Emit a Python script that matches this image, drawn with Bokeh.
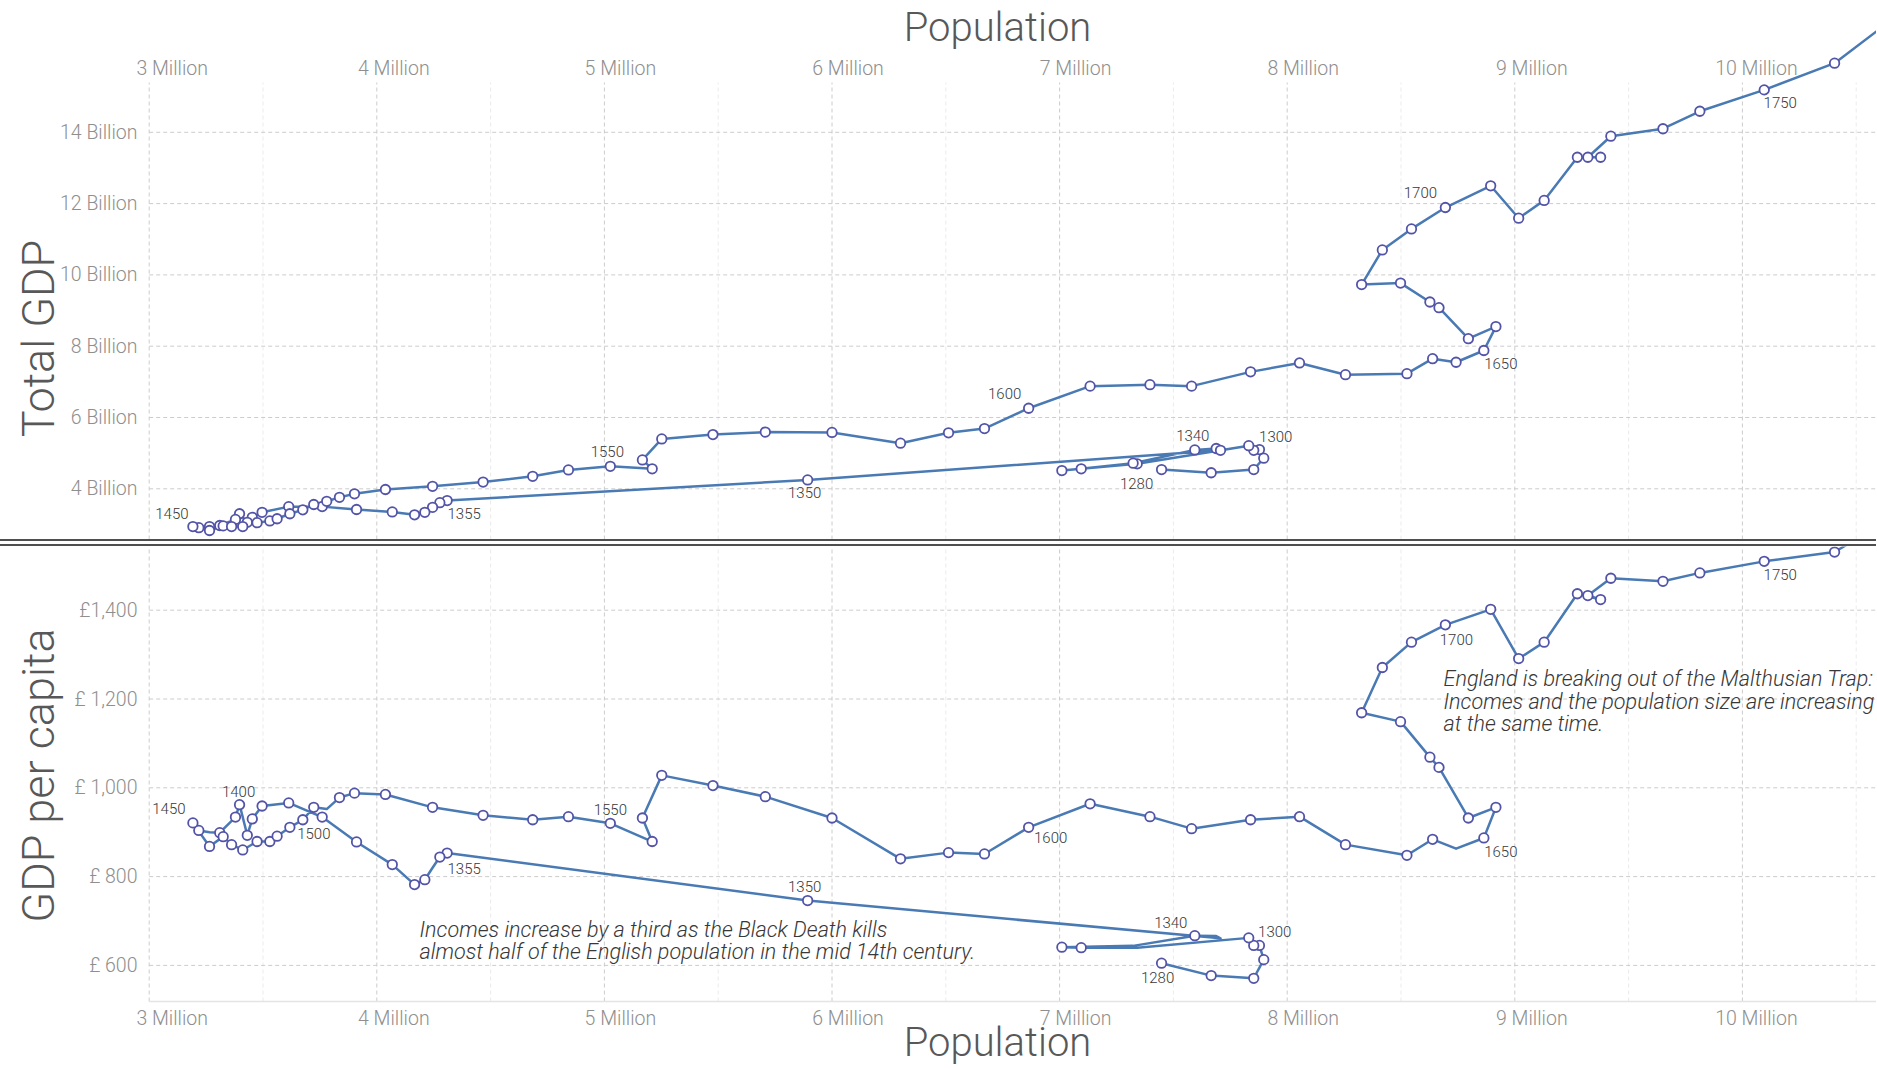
import math
from bokeh.plotting import figure
from bokeh.models import ColumnDataSource, Range1d, Div, CDSView, BooleanFilter
from bokeh.layouts import column
from bokeh.embed import file_html
from bokeh.resources import INLINE
from bokeh.core.properties import value

# ---------------- data ----------------
# population in millions, in time order
population = [7.448, 7.666, 7.853, 7.897, 7.878, 7.853, 7.831,
              7.341, 7.095, 7.010, 7.323, 7.594, 7.688, 7.707,
              5.893,
              4.309, 4.277, 4.245, 4.211, 4.166, 4.068, 3.911,
              3.760, 3.613, 3.496, 3.453, 3.431, 3.397, 3.379,
              3.310, 3.265, 3.218, 3.192,
              3.265, 3.325, 3.362, 3.411, 3.474, 3.530, 3.562,
              3.618, 3.675, 3.723, 3.780, 3.836, 3.902, 4.038,
              4.245, 4.467, 4.685, 4.842, 5.026,
              5.210, 5.167, 5.252, 5.477, 5.707, 6.000,
              6.301, 6.512, 6.670, 6.864, 7.134,
              7.397, 7.580, 7.839, 8.054,
              8.256, 8.526, 8.639, 8.742, 8.864,
              8.917, 8.796, 8.667, 8.627, 8.498, 8.327, 8.418,
              8.546, 8.695, 8.894, 9.017, 9.129, 9.275, 9.377,
              9.321, 9.422, 9.651, 9.813, 10.096, 10.405, 10.80]

# total GDP in billions
total_gdp = [4.54, 4.45, 4.54, 4.86, 5.10, 5.08, 5.21,
             4.70, 4.56, 4.51, 4.72, 5.09, 5.13, 5.08,
             4.25,
             3.67, 3.61, 3.48, 3.34, 3.27, 3.35, 3.42,
             3.50, 3.50, 3.34, 3.20, 3.06, 3.30, 3.14,
             2.97, 2.94, 2.91, 2.94,
             2.83, 2.96, 2.94, 2.94, 3.05, 3.10, 3.16,
             3.30, 3.41, 3.56, 3.65, 3.76, 3.86, 3.98,
             4.07, 4.19, 4.35, 4.53, 4.63,
             4.56, 4.81, 5.40, 5.52, 5.59, 5.58,
             5.28, 5.57, 5.69, 6.26, 6.88,
             6.92, 6.88, 7.28, 7.53,
             7.20, 7.23, 7.65, 7.55, 7.88,
             8.55, 8.21, 9.08, 9.24, 9.77, 9.73, 10.70,
             11.29, 11.89, 12.50, 11.59, 12.09, 13.30, 13.30,
             13.30, 13.89, 14.10, 14.59, 15.19, 15.94, 17.85]

# GDP per capita in pounds
gdp_per_capita = [605, 577, 571, 613, 645, 645, 662,
                  640, 640, 641, 644, 667, 666, 661,
                  746,
                  853, 844, 820, 793, 782, 827, 878,
                  934, 966, 959, 930, 893, 962, 934,
                  899, 900, 904, 921,
                  868, 890, 872, 860, 879, 879, 891,
                  911, 928, 956, 952, 978, 988, 985,
                  956, 938, 928, 935, 920,
                  879, 932, 1028, 1005, 980, 932,
                  840, 854, 851, 911, 964,
                  935, 908, 928, 935,
                  872, 848, 884, 863, 887,
                  956, 932, 1046, 1069, 1149, 1169, 1271,
                  1328, 1367, 1402, 1291, 1328, 1437, 1424,
                  1433, 1472, 1465, 1484, 1510, 1531, 1652]

# points whose circle is not drawn in the lower panel
bottom_hidden = [7, 10, 12, 13, 17, 30, 43, 70]

# year labels: year text, index of the point
label_years = ["1280", "1300", "1340", "1350", "1355", "1400", "1450",
               "1500", "1550", "1600", "1650", "1700", "1750"]
label_index = [0, 6, 11, 14, 15, 27, 32, 40, 51, 61, 71, 80, 90]

pop_ticks = [3, 4, 5, 6, 7, 8, 9, 10]
pop_minor = [3.5, 4.5, 5.5, 6.5, 7.5, 8.5, 9.5, 10.5]
pop_tick_labels = ["3 Million", "4 Million", "5 Million", "6 Million",
                   "7 Million", "8 Million", "9 Million", "10 Million"]
gdp_ticks = [4, 6, 8, 10, 12, 14]
gdp_tick_labels = ["4 Billion", "6 Billion", "8 Billion", "10 Billion",
                   "12 Billion", "14 Billion"]
gdppc_ticks = [600, 800, 1000, 1200, 1400]
gdppc_tick_labels = ["£ 600", "£ 800", "£ 1,000", "£ 1,200", "£1,400"]

note_black_death = ["Incomes increase by a third as the Black Death kills",
                    "almost half of the English population in the mid 14th century."]
note_malthus = ["England is breaking out of the Malthusian Trap:",
                "Incomes and the population size are increasing",
                "at the same time."]

# ---------------- layout / style ----------------
FONT = "Roboto Light"
LINE_COLOR = "#4a7ab4"
MARK_COLOR = "#5354a8"
TICK_COLOR = "#8f8f8f"
TITLE_COLOR = "#585858"
TEXT_COLOR = "#383838"
GRID_COLOR = "#cccccc"
MINOR_GRID_COLOR = "#ebebeb"
TICK_FS = "19.5px"
YEAR_FS = "15px"
NOTE_FS = "21.6px"
AXIS_TITLE_FS = "45px"

PAGE_W = 1876
X3_PX = 148.7            # page px of the 3 Million line
PX_PER_M = 227.6
GRID_RIGHT = PAGE_W
# the population tick labels sit a little right of their grid lines (px)
pop_label_shift = [23, 17, 16, 16, 16, 16, 17, 14]


def pop_at(px):
    return 3.0 + (px - X3_PX) / PX_PER_M


TOP_Y0, TOP_Y1 = 0, 539
Y4B_PX, PX_PER_B = 488.3, 35.65


def gdp_at(py):
    return 4.0 + (Y4B_PX - py) / PX_PER_B


SEP_H = 7
BOT_Y0 = TOP_Y1 + SEP_H
BOT_FRAME_Y1, BOT_Y1 = 1001, 1068
Y1000_PX, PX_PER_GBP = 787.3, 0.444


def gdppc_at(py):
    return 1000.0 + (Y1000_PX - py) / PX_PER_GBP


# offsets (px) of the year labels from their points
top_offsets = {"1280": (-25, 14), "1300": (27, -9), "1340": (-2, -14),
               "1350": (-3, 13), "1355": (17, 13), "1450": (-21, -13),
               "1550": (-3, -15), "1600": (-24, -15), "1650": (17, 13),
               "1700": (-25, -15), "1750": (16, 13)}
bottom_offsets = {"1280": (-4, 14), "1300": (26, -6), "1340": (-24, -13),
                  "1350": (-3, -14), "1355": (17, 15), "1400": (-1, -13),
                  "1450": (-24, -14), "1500": (24, 6), "1550": (0, -14),
                  "1600": (22, 10), "1650": (17, 14), "1700": (11, 15),
                  "1750": (16, 13)}


def make_panel(fig_top_px, fig_bot_px, y_at, grid_top_px, grid_bot_px,
               y_ticks, y_tick_labels, y_values, marker_mask, offsets,
               axis_title, title_center_px, x_label_px, title_px):
    p = figure(width=PAGE_W, height=fig_bot_px - fig_top_px,
               x_range=Range1d(pop_at(0), pop_at(PAGE_W)),
               y_range=Range1d(y_at(fig_bot_px), y_at(fig_top_px)),
               output_backend="svg", toolbar_location=None,
               x_axis_location=None, y_axis_location=None,
               min_border_left=0, min_border_right=0,
               min_border_top=0, min_border_bottom=0)
    p.outline_line_color = None
    p.xgrid.visible = False
    p.ygrid.visible = False
    ybot = y_at(grid_bot_px)
    ytop = y_at(grid_top_px)
    # vertical grid
    p.segment(x0=pop_minor, x1=pop_minor, y0=[ybot] * len(pop_minor),
              y1=[ytop] * len(pop_minor), line_color=MINOR_GRID_COLOR,
              line_dash="4 3", line_width=1)
    p.segment(x0=pop_ticks, x1=pop_ticks, y0=[ybot] * len(pop_ticks),
              y1=[ytop] * len(pop_ticks), line_color=GRID_COLOR,
              line_dash="4 3", line_width=1)
    # horizontal grid
    p.segment(x0=[pop_at(X3_PX)] * len(y_ticks), x1=[pop_at(GRID_RIGHT)] * len(y_ticks),
              y0=y_ticks, y1=y_ticks, line_color=GRID_COLOR,
              line_dash="4 3", line_width=1)
    # y tick labels
    p.text(x=[pop_at(137)] * len(y_ticks), y=y_ticks, text=y_tick_labels,
           text_font=value(FONT), text_font_size=TICK_FS, text_color=TICK_COLOR,
           text_align="right", text_baseline="middle")
    # x tick labels
    p.text(x=pop_ticks, y=[y_at(x_label_px)] * len(pop_ticks), text=pop_tick_labels,
           x_offset=pop_label_shift, text_font=value(FONT), text_font_size=TICK_FS,
           text_color=TICK_COLOR, text_align="center", text_baseline="middle")
    # axis titles
    p.text(x=[pop_at(38)], y=[y_at(title_center_px)], text=[axis_title],
           angle=math.pi / 2, text_font=value(FONT), text_font_size=AXIS_TITLE_FS,
           text_color=TITLE_COLOR, text_align="center", text_baseline="middle")
    p.text(x=[pop_at(997)], y=[y_at(title_px)], text=["Population"],
           text_font=value(FONT), text_font_size="40px", text_color=TITLE_COLOR,
           text_align="center", text_baseline="middle")
    # series
    p.line(population, y_values, line_color=LINE_COLOR, line_width=2.5,
           line_join="round")
    src = ColumnDataSource(dict(x=population, y=y_values))
    p.scatter("x", "y", source=src, view=CDSView(filter=BooleanFilter(marker_mask)),
              size=9.5, fill_color="white", line_color=MARK_COLOR, line_width=1.8)
    lab = dict(x=[], y=[], text=[], dx=[], dy=[])
    for yr, i in zip(label_years, label_index):
        if yr in offsets:
            lab["x"].append(population[i]); lab["y"].append(y_values[i])
            lab["text"].append(yr)
            lab["dx"].append(offsets[yr][0]); lab["dy"].append(offsets[yr][1])
    p.text("x", "y", text="text", x_offset="dx", y_offset="dy",
           source=ColumnDataSource(lab), text_font=value(FONT),
           text_font_size=YEAR_FS, text_color=TEXT_COLOR,
           text_align="center", text_baseline="middle")
    return p


# ---------------- top panel: total GDP ----------------
top = make_panel(TOP_Y0, TOP_Y1, gdp_at, 82, TOP_Y1,
                 gdp_ticks, gdp_tick_labels, total_gdp,
                 [True] * len(population), top_offsets, "Total GDP", 338,
                 68, 27)

# ---------------- separator ----------------
sep = Div(width=PAGE_W, height=SEP_H, margin=(0, 0, 0, 0),
          styles={"border-top": "2px solid #4f4f4f",
                  "border-bottom": "2px solid #4f4f4f",
                  "box-sizing": "border-box"})

# ---------------- bottom panel: GDP per capita ----------------
show_mask = [i not in bottom_hidden for i in range(len(population))]
bot = make_panel(BOT_Y0, BOT_Y1, gdppc_at, BOT_Y0, BOT_FRAME_Y1,
                 gdppc_ticks, gdppc_tick_labels, gdp_per_capita,
                 show_mask, bottom_offsets, "GDP per capita", 775,
                 1018, 1042)
bot.segment(x0=[pop_at(X3_PX)], x1=[pop_at(GRID_RIGHT)],
            y0=[gdppc_at(BOT_FRAME_Y1)], y1=[gdppc_at(BOT_FRAME_Y1)],
            line_color="#e4e4e4", line_width=1.5)

bot.text(x=[pop_at(419)] * 2, y=[gdppc_at(929), gdppc_at(950.5)],
         text=note_black_death, text_font=value(FONT), text_font_style="italic",
         text_font_size=NOTE_FS, text_color=TEXT_COLOR, text_align="left",
         text_baseline="middle")
bot.text(x=[pop_at(1443)] * 3, y=[gdppc_at(678), gdppc_at(700.5), gdppc_at(723)],
         text=note_malthus, text_font=value(FONT), text_font_style="italic",
         text_font_size=NOTE_FS, text_color=TEXT_COLOR, text_align="left",
         text_baseline="middle")

layout = column(top, sep, bot, spacing=0)
open("out.html", "w").write(file_html(layout, INLINE))
